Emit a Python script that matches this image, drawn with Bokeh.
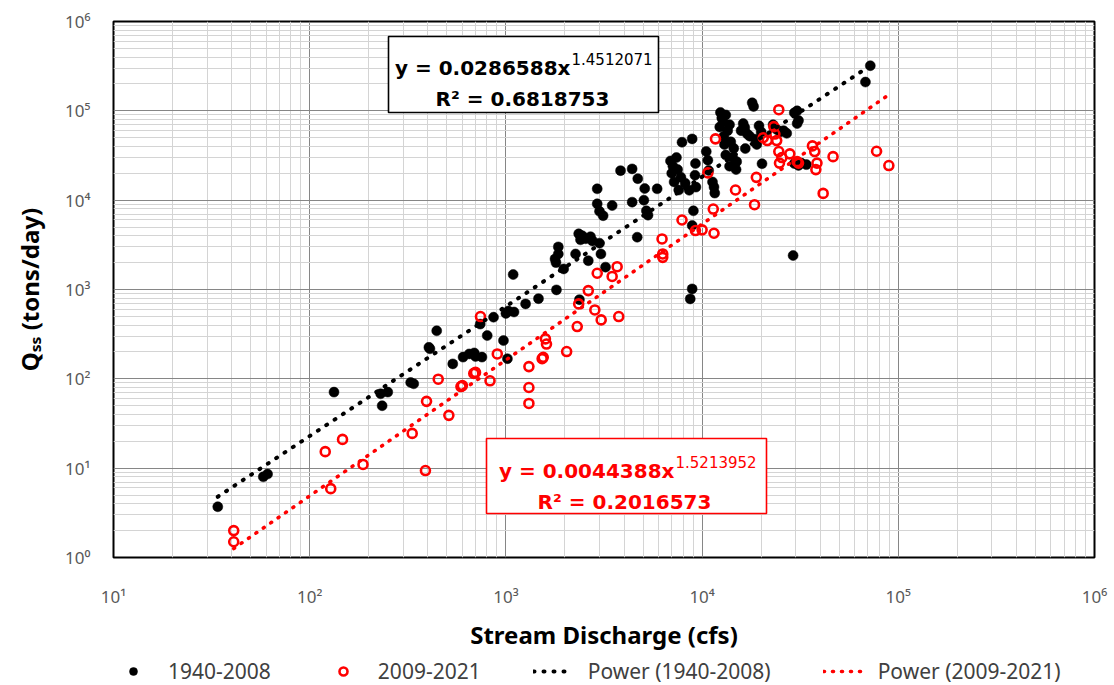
import numpy as np
from bokeh.plotting import figure
from bokeh.layouts import column
from bokeh.models import Range1d, FixedTicker, Label, BoxAnnotation, Legend, LegendItem
from bokeh.embed import file_html
from bokeh.resources import INLINE

# ---------------- data ----------------
q_1940 = [34, 58, 61, 133, 230, 234, 250, 327, 339, 405, 410, 444, 536, 605, 650, 690, 700, 755,
          740, 803, 865, 972, 1000, 1018, 1030, 1100,
          1089, 1260, 1466, 1810, 1780, 1800, 1850, 1850, 1970, 2265, 2350, 2400, 2450, 2550,
          2630, 2700, 2760, 3000, 3050, 3220, 2370, 2920, 2920, 3000, 3130, 3480,
          3840, 4400, 4400, 4670, 4700, 5100, 5050, 5200, 5300, 5900, 6900, 7000, 7200, 7100,
          7400, 7600, 7500, 7800, 8200, 8600, 9200, 9250, 7900, 8900, 9030, 8900, 8900, 8700, 9300,
          10500, 10700, 10800, 11300, 11500, 11600, 12400, 12600, 12300, 12800, 13200, 13800,
          12900, 13500, 14000, 13000, 14500, 13200, 14300, 15000, 13800, 14900, 15800, 16200,
          16500, 17000, 17500, 16600, 18000, 18300, 18700, 19500, 20000, 20200, 19000,
          23000, 24000, 25000, 26000, 27000, 29500, 30500, 31000, 30500, 29100, 29500, 31000,
          32000, 34000, 68000, 72000]
qss_1940 = [3.7, 8.0, 8.6, 71, 68, 50, 71, 91, 88, 225, 217, 345, 147, 175, 190, 195, 178, 175,
            410, 305, 490, 268, 540, 168, 575, 560,
            1470, 690, 790, 990, 2200, 2000, 3000, 2500, 1700, 2500, 4200, 3600, 4000, 3700,
            2100, 3900, 3500, 3300, 2500, 1780, 770, 9100, 13400, 7500, 6700, 8700,
            21400, 22400, 9500, 3850, 17400, 13500, 10000, 7600, 6800, 13400, 27500, 20000, 16000, 24000,
            30000, 13000, 22000, 18000, 15500, 12900, 19000, 25700, 44500, 48500, 7600, 5200, 1016, 785, 14000,
            35000, 28000, 21500, 16000, 14000, 12000, 96000, 83000, 66000, 75000, 90000, 70000,
            52000, 60000, 45000, 42000, 38000, 32000, 30000, 27000, 24000, 22000, 60000, 72000,
            65000, 55000, 52000, 37800, 123000, 112000, 48000, 68000, 58000, 25600, 42000,
            70000, 62000, 58000, 60000, 56000, 95000, 100000, 78000, 72000, 2400, 25700, 24500,
            26000, 25000, 210000, 320000]

q_2009 = [41, 41, 120, 128, 147, 187, 333, 389, 394, 452, 512, 590, 600, 686, 700, 742, 830, 904,
          1310, 1310, 1310, 1530, 1550, 1590, 1610, 2040, 2310, 2350, 2630, 2840, 3060, 2920, 3480,
          3690, 3760, 6250, 6300, 6300, 7900, 9250, 10000, 11500, 11400, 10700, 11700, 14800,
          18500, 18900, 20500, 21500, 23200, 23500, 24000, 24600, 24600, 25500, 24800, 28000,
          30500, 31000, 36500, 37500, 38500, 38000, 46500, 41400, 77500, 89500]
qss_2009 = [2.0, 1.5, 15.3, 5.9, 21, 11, 24.5, 9.4, 56, 99, 39, 82, 84, 115, 118, 498, 95, 190,
            137, 80, 53, 168, 174, 280, 245, 202, 385, 690, 972, 590, 457, 1520, 1400,
            1800, 498, 3680, 2500, 2290, 6000, 4570, 4650, 4260, 7950, 20200, 48600, 13000,
            8900, 18000, 50000, 46500, 66600, 55000, 46500, 103000, 35000, 30000, 26000, 33000,
            27000, 26000, 40500, 35000, 26000, 22000, 30700, 11900, 35300, 24400]

series_names = ["1940-2008", "2009-2021"]
fit_names = ["Power (1940-2008)", "Power (2009-2021)"]
fit_1940 = {"a": 0.0286588, "b": 1.4512071, "r2": 0.6818753}
fit_2009 = {"a": 0.0044388, "b": 1.5213952, "r2": 0.2016573}

x_tick_values = [10, 100, 1000, 10000, 100000, 1000000]
x_tick_labels = ["10¹", "10²", "10³", "10⁴", "10⁵", "10⁶"]
y_tick_values = [1, 10, 100, 1000, 10000, 100000, 1000000]
y_tick_labels = ["10⁰", "10¹", "10²", "10³", "10⁴", "10⁵", "10⁶"]

x_title = "Stream Discharge (cfs)"
y_title = "Qₛₛ (tons/day)"

# ---------------- main figure ----------------
W, H_MAIN, H_LEG = 1114, 653, 32
p = figure(width=W, height=H_MAIN, x_axis_type="log", y_axis_type="log",
           x_range=Range1d(10, 1e6), y_range=Range1d(1, 1e6),
           output_backend="svg", toolbar_location=None,
           min_border_left=113, min_border_right=20, min_border_top=21, min_border_bottom=96)
p.background_fill_color = "white"
p.border_fill_color = "white"
p.outline_line_color = "black"
p.outline_line_width = 2

x_minor = [m * 10 ** k for k in range(1, 6) for m in range(2, 10)]
y_minor = [m * 10 ** k for k in range(0, 6) for m in range(2, 10)]
p.xaxis.ticker = FixedTicker(ticks=x_tick_values, minor_ticks=x_minor)
p.yaxis.ticker = FixedTicker(ticks=y_tick_values, minor_ticks=y_minor)
p.xaxis.major_label_overrides = dict(zip(x_tick_values, x_tick_labels))
p.yaxis.major_label_overrides = dict(zip(y_tick_values, y_tick_labels))

for ax in (p.xaxis, p.yaxis):
    ax.axis_line_color = None
    ax.major_tick_line_color = None
    ax.minor_tick_line_color = None
    ax.major_tick_out = 0
    ax.major_tick_in = 0
    ax.minor_tick_out = 0
    ax.minor_tick_in = 0
    ax.major_label_text_font = "Noto Sans"
    ax.major_label_text_font_size = "17px"
    ax.major_label_text_color = "#595959"
    ax.axis_label_text_font = "Noto Sans"
    ax.axis_label_text_font_size = "24px"
    ax.axis_label_text_font_style = "bold"
    ax.axis_label_text_color = "black"

p.xaxis.axis_label = x_title
p.yaxis.axis_label = y_title
p.xaxis.major_label_standoff = 27
p.xaxis.axis_label_standoff = 7
p.yaxis.major_label_standoff = 23
p.yaxis.axis_label_standoff = 16

for g in (p.xgrid, p.ygrid):
    g.grid_line_color = "#868686"
    g.grid_line_width = 1
    g.minor_grid_line_color = "#d4d4d4"
    g.minor_grid_line_width = 1

# ---------------- marks ----------------
black_style = dict(marker="circle", size=10, fill_color="black", line_color="black", line_width=0.5)
red_style = dict(marker="circle", size=9, fill_color=None, line_color="#ff0000", line_width=2.6)
black_fit_style = dict(line_color="black", line_width=4, line_dash="1 9", line_cap="round")
red_fit_style = dict(line_color="#ff0000", line_width=3.6, line_dash="1 8", line_cap="round")

p.scatter(q_1940, qss_1940, **black_style)
p.scatter(q_2009, qss_2009, **red_style)

xf1 = np.geomspace(min(q_1940), max(q_1940), 200)
yf1 = fit_1940["a"] * xf1 ** fit_1940["b"]
xf2 = np.geomspace(min(q_2009), max(q_2009), 200)
yf2 = fit_2009["a"] * xf2 ** fit_2009["b"]
p.line(xf1, yf1, **black_fit_style)
p.line(xf2, yf2, **red_fit_style)

# ---------------- equation boxes (annotations placed in page pixels) ----------------
X0_PX, Y0_PX = 113.0, 21.0
DEC_X, DEC_Y = 981 / 5, 536 / 6


def at_x(px):
    return 10 ** (1 + (px - X0_PX) / DEC_X)


def at_y(py):
    return 10 ** (6 - (py - Y0_PX) / DEC_Y)


def eq_box(left, top, right, bottom, anchor, base1, center2, base2, fit, color):
    p.add_layout(BoxAnnotation(left=at_x(left), right=at_x(right), top=at_y(top), bottom=at_y(bottom),
                               fill_color="white", fill_alpha=1.0, line_color=color, line_width=1.6,
                               line_alpha=1.0))
    p.add_layout(Label(x=at_x(anchor), y=at_y(base1), text="y = %.7fx" % fit["a"],
                       text_align="right", text_baseline="alphabetic",
                       text_font="DejaVu Sans", text_font_style="bold",
                       text_font_size="20px", text_color=color))
    p.add_layout(Label(x=at_x(anchor + 1), y=at_y(base1 - 9), text="%.7f" % fit["b"],
                       text_align="left", text_baseline="alphabetic",
                       text_font="DejaVu Sans", text_font_size="15px", text_color=color))
    p.add_layout(Label(x=at_x(center2), y=at_y(base2), text="R² = %.7f" % fit["r2"],
                       text_align="center", text_baseline="alphabetic",
                       text_font="DejaVu Sans", text_font_style="bold",
                       text_font_size="20px", text_color=color))


eq_box(388, 36, 658, 112, 570, 67, 522, 98, fit_1940, "black")
eq_box(486, 438, 766, 513, 674, 470, 624, 501, fit_2009, "#ff0000")

# ---------------- legend strip (separate small figure under the chart) ----------------
# the key renderers carry the real series, but the strip's ranges keep them out of view
pl = figure(width=W, height=H_LEG, x_range=Range1d(0, 1), y_range=Range1d(0, 1),
            output_backend="svg", toolbar_location=None,
            x_axis_location=None, y_axis_location=None,
            min_border_left=0, min_border_right=0, min_border_top=0, min_border_bottom=0)
pl.outline_line_color = None
pl.grid.visible = False
pl.background_fill_color = "white"
pl.border_fill_color = "white"
k1 = pl.scatter(q_1940, qss_1940, **black_style)
k2 = pl.scatter(q_2009, qss_2009, **red_style)
k3 = pl.line(xf1, yf1, **black_fit_style)
k4 = pl.line(xf2, yf2, **red_fit_style)

legend = Legend(items=[LegendItem(label=series_names[0], renderers=[k1]),
                       LegendItem(label=series_names[1], renderers=[k2]),
                       LegendItem(label=fit_names[0], renderers=[k3]),
                       LegendItem(label=fit_names[1], renderers=[k4])],
                orientation="horizontal", location=(0, 0),
                glyph_width=40, glyph_height=20, label_standoff=15, spacing=52,
                padding=0, margin=0, border_line_color=None, background_fill_alpha=0,
                label_text_font="Noto Sans", label_text_font_size="21px",
                label_text_color="#404040")
pl.add_layout(legend)

open("out.html", "w").write(file_html(column(p, pl, spacing=0), INLINE))
